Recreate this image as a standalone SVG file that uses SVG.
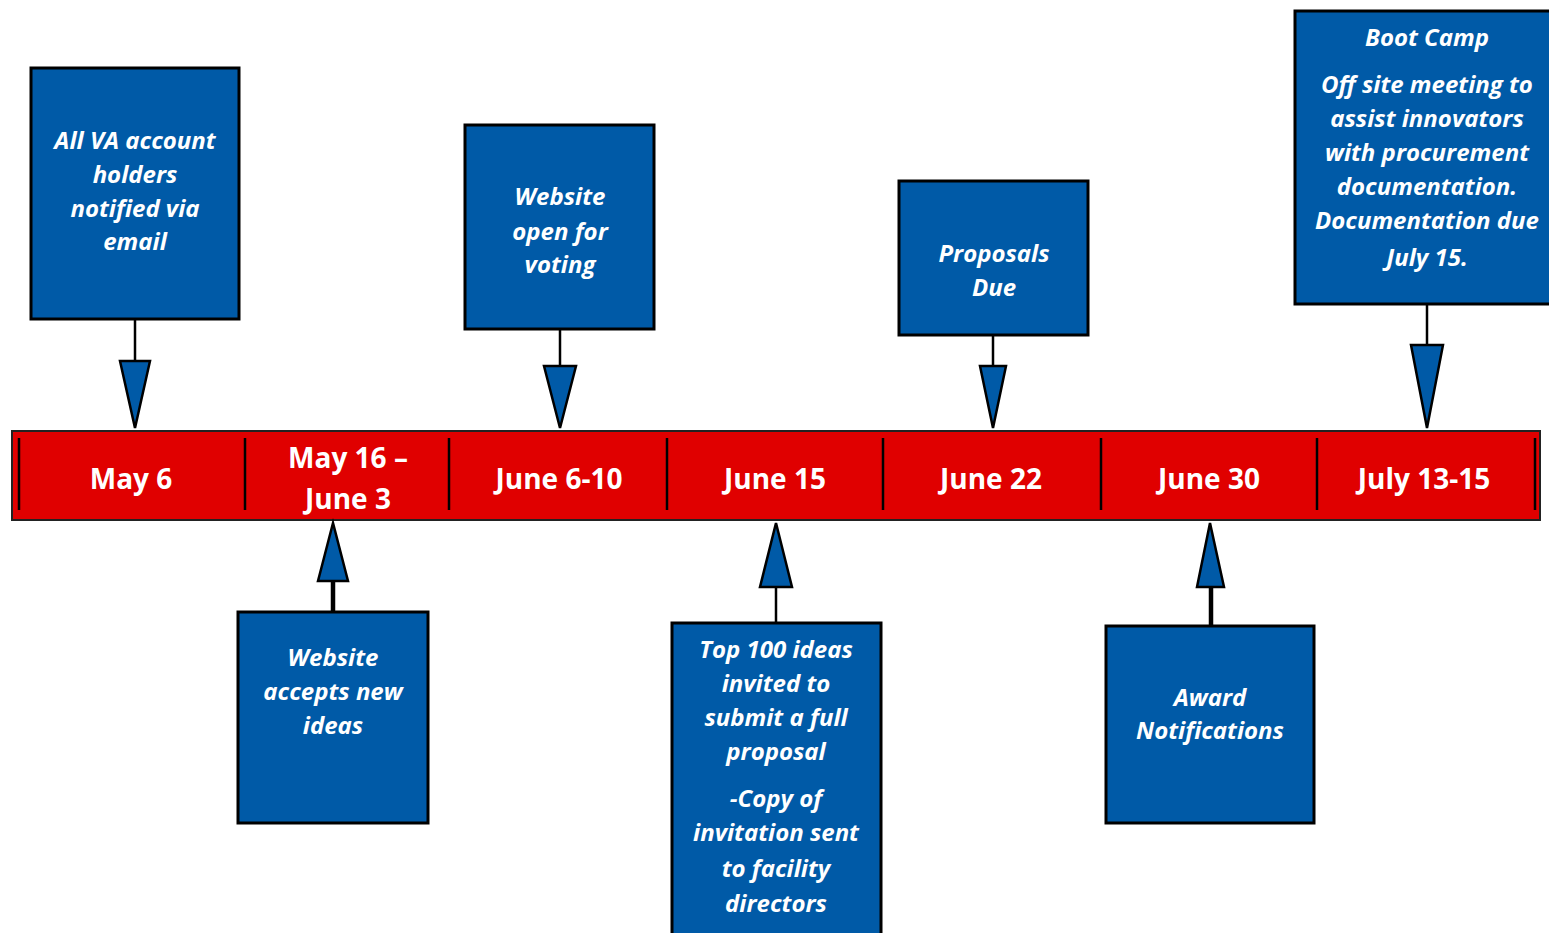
<svg xmlns="http://www.w3.org/2000/svg" width="1549" height="933" viewBox="0 0 1549 933">
<style>
.box{fill:#005AA7;stroke:#000;stroke-width:3}
.bt{font-family:"Open Sans","Liberation Sans",sans-serif;font-weight:bold;font-style:italic;font-size:24px;fill:#fff;text-anchor:middle}
.dt{font-family:"Open Sans","Liberation Sans",sans-serif;font-weight:bold;font-size:28px;fill:#fff;text-anchor:middle}
.ln{stroke:#000;stroke-width:2.5;fill:none}
.lnb{stroke:#000;stroke-width:4.5;fill:none}
.tri{fill:#005AA7;stroke:#000;stroke-width:2.5;stroke-linejoin:miter}
.div{stroke:#000;stroke-width:2.5}
</style>
<rect width="1549" height="933" fill="#fff"/>
<g id="timeline">
<rect x="12" y="431" width="1528" height="89" fill="#E00000" stroke="#222" stroke-width="2"/>
<g class="div">
<line x1="19" y1="438" x2="19" y2="510"/>
<line x1="245" y1="438" x2="245" y2="510"/>
<line x1="449" y1="438" x2="449" y2="510"/>
<line x1="667" y1="438" x2="667" y2="510"/>
<line x1="883" y1="438" x2="883" y2="510"/>
<line x1="1101" y1="438" x2="1101" y2="510"/>
<line x1="1317" y1="438" x2="1317" y2="510"/>
<line x1="1535" y1="438" x2="1535" y2="510"/>
</g>
<text class="dt" x="131" y="489">May 6</text>
<text class="dt" x="348" y="468">May 16 –</text>
<text class="dt" x="348" y="509">June 3</text>
<text class="dt" x="559" y="489">June 6-10</text>
<text class="dt" x="775" y="489">June 15</text>
<text class="dt" x="991" y="489">June 22</text>
<text class="dt" x="1209" y="489">June 30</text>
<text class="dt" x="1424" y="489">July 13-15</text>
</g>
<g id="connectors">
<line class="ln" x1="135" y1="319" x2="135" y2="361"/>
<polygon class="tri" points="120,361 150,361 135,428"/>
<line class="ln" x1="560" y1="329" x2="560" y2="366"/>
<polygon class="tri" points="544,366 576,366 560,428"/>
<line class="ln" x1="993" y1="335" x2="993" y2="366"/>
<polygon class="tri" points="980,366 1006,366 993,428"/>
<line class="ln" x1="1427" y1="304" x2="1427" y2="345"/>
<polygon class="tri" points="1411,345 1443,345 1427,428"/>
<line class="lnb" x1="333" y1="581" x2="333" y2="612"/>
<polygon class="tri" points="333,523 318,581 348,581"/>
<line class="ln" x1="776" y1="587" x2="776" y2="623"/>
<polygon class="tri" points="776,523 760,587 792,587"/>
<line class="lnb" x1="1211" y1="587" x2="1211" y2="626"/>
<polygon class="tri" points="1210,523 1197,587 1224,587"/>
</g>
<g id="node-may6">
<rect class="box" x="31" y="68" width="208" height="251"/>
<text class="bt" x="135" y="149">All VA account</text>
<text class="bt" x="135" y="183">holders</text>
<text class="bt" x="135" y="217">notified via</text>
<text class="bt" x="135" y="250">email</text>
</g>
<g id="node-june6">
<rect class="box" x="465" y="125" width="189" height="204"/>
<text class="bt" x="560" y="205">Website</text>
<text class="bt" x="560" y="240">open for</text>
<text class="bt" x="560" y="273">voting</text>
</g>
<g id="node-june22">
<rect class="box" x="899" y="181" width="189" height="154"/>
<text class="bt" x="994" y="262">Proposals</text>
<text class="bt" x="994" y="296">Due</text>
</g>
<g id="node-july13">
<rect class="box" x="1295" y="11" width="258" height="293"/>
<text class="bt" x="1427" y="46">Boot Camp</text>
<text class="bt" x="1427" y="93">Off site meeting to</text>
<text class="bt" x="1427" y="127">assist innovators</text>
<text class="bt" x="1427" y="161">with procurement</text>
<text class="bt" x="1427" y="195">documentation.</text>
<text class="bt" x="1427" y="229">Documentation due</text>
<text class="bt" x="1427" y="266">July 15.</text>
</g>
<g id="node-may16">
<rect class="box" x="238" y="612" width="190" height="211"/>
<text class="bt" x="333" y="666">Website</text>
<text class="bt" x="333" y="700">accepts new</text>
<text class="bt" x="333" y="734">ideas</text>
</g>
<g id="node-june15">
<rect class="box" x="672" y="623" width="209" height="320"/>
<text class="bt" x="776" y="658">Top 100 ideas</text>
<text class="bt" x="776" y="692">invited to</text>
<text class="bt" x="776" y="726">submit a full</text>
<text class="bt" x="776" y="760">proposal</text>
<text class="bt" x="776" y="807">-Copy of</text>
<text class="bt" x="776" y="841">invitation sent</text>
<text class="bt" x="776" y="877">to facility</text>
<text class="bt" x="776" y="912">directors</text>
</g>
<g id="node-june30">
<rect class="box" x="1106" y="626" width="208" height="197"/>
<text class="bt" x="1210" y="706">Award</text>
<text class="bt" x="1210" y="739">Notifications</text>
</g>
</svg>
